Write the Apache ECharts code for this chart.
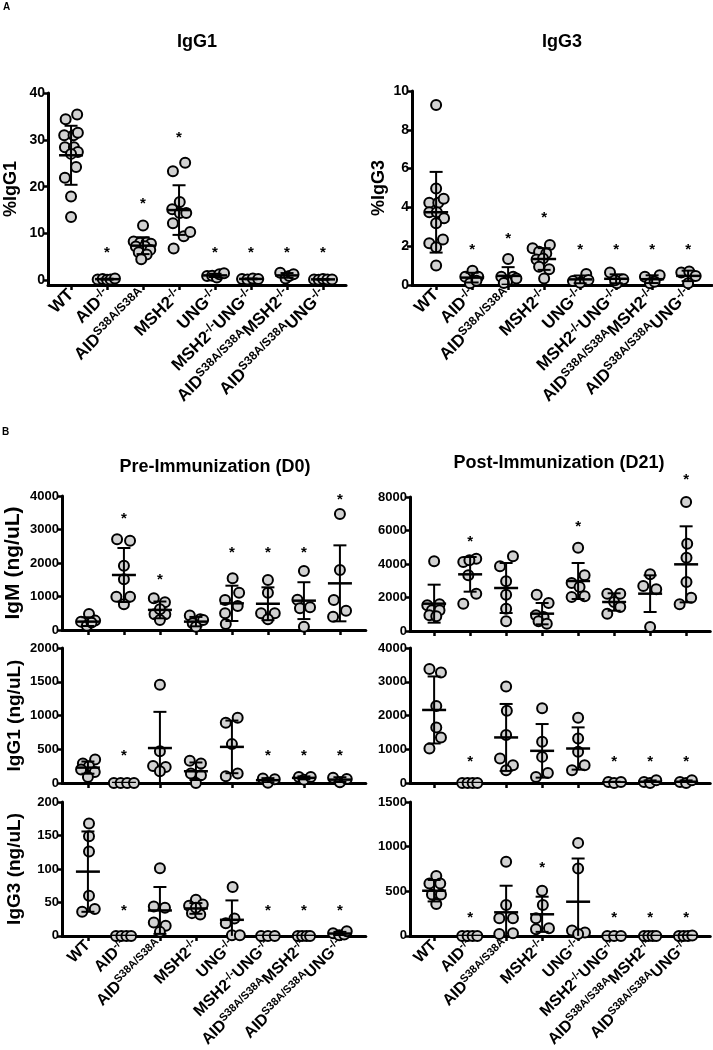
<!DOCTYPE html>
<html><head><meta charset="utf-8">
<script src="https://cdn.jsdelivr.net/npm/echarts@6/dist/echarts.min.js"></script>
<style>html,body{margin:0;padding:0;background:#fff}#c{width:713px;height:1050px}</style>
</head><body><div id="c"></div>
<script>
// ---------- categories & tick labels ----------
const categories = ['WT','AID-/-','AIDS38A/S38A','MSH2-/-','UNG-/-','MSH2-/-UNG-/-','AIDS38A/S38AMSH2-/-','AIDS38A/S38AUNG-/-'];
const categoryLabelsRich = ['{b|WT}','{b|AID}{s|-/-}','{b|AID}{s|S38A/S38A}','{b|MSH2}{s|-/-}','{b|UNG}{s|-/-}','{b|MSH2}{s|-/-}{b|UNG}{s|-/-}','{b|AID}{s|S38A/S38A}{b|MSH2}{s|-/-}','{b|AID}{s|S38A/S38A}{b|UNG}{s|-/-}'];
const pctIgG1Ticks = [0,10,20,30,40];
const pctIgG3Ticks = [0,2,4,6,8,10];
const preIgMTicks = [0,1000,2000,3000,4000];
const postIgMTicks = [0,2000,4000,6000,8000];
const preIgG1Ticks = [0,500,1000,1500,2000];
const postIgG1Ticks = [0,1000,2000,3000,4000];
const preIgG3Ticks = [0,50,100,150,200];
const postIgG3Ticks = [0,500,1000,1500];

// ---------- data: per group [jitter offset (category units), value] ----------
const pctIgG1Points = [
 [[0.17,35.4],[-0.15,34.4],[-0.19,31.0],[0.07,31.0],[0.19,31.5],[-0.17,28.4],[0.08,28.4],[0.19,27.4],[0,27.0],[0.14,24.2],[-0.17,21.9],[0,17.9],[0,13.5]],
 [[-0.26,0.2],[-0.12,0.3],[0,0.1],[0.1,0.2],[0.22,0.4]],
 [[0,11.7],[-0.26,8.3],[-0.08,8.0],[0.1,8.1],[0.22,7.8],[-0.2,7.2],[0.05,7.3],[0.2,6.5],[-0.12,6.0],[0.1,5.5],[-0.05,4.5]],
 [[-0.17,23.3],[0.17,25.1],[0.02,16.7],[-0.19,15.2],[0.02,14.4],[0.2,14.4],[-0.17,12.2],[0.13,9.4],[0.31,10.3],[-0.15,6.8]],
 [[-0.22,0.9],[-0.08,1.0],[0.05,0.6],[0.12,1.3],[0.25,1.5]],
 [[-0.25,0.3],[-0.1,0.2],[0.05,0.4],[0.2,0.3]],
 [[-0.19,1.6],[-0.04,0.4],[0.06,0.9],[0.18,1.3]],
 [[-0.25,0.2],[-0.12,0.1],[0,0.3],[0.12,0.2],[0.25,0.2]]
];
const pctIgG1Mean = [26.7,0.25,7.4,15.0,1.05,0.3,1.05,0.2];
const pctIgG1Sd = [6.3,0.1,1.8,5.3,0.35,0.08,0.5,0.07];
const pctIgG1Stars = [null,6.5,16.9,31.0,6.5,6.5,6.5,6.5];

const pctIgG3Points = [
 [[0,9.28],[0,4.98],[-0.19,4.24],[0.06,4.24],[0.21,4.45],[-0.19,3.75],[0.02,3.75],[0.22,3.44],[0,3.18],[0.19,2.35],[-0.19,2.15],[0,1.94],[0,1.0]],
 [[-0.19,0.43],[0.01,0.74],[0.17,0.43],[-0.06,0.09],[0.12,0.22]],
 [[0,1.34],[-0.19,0.43],[0.14,0.43],[-0.03,0.17],[0.23,0.34],[-0.12,0.1]],
 [[-0.32,1.89],[0.16,2.06],[-0.14,1.72],[0.06,1.63],[-0.21,1.32],[-0.03,1.37],[-0.14,0.94],[0.14,0.81],[0,0.33]],
 [[-0.2,0.2],[0,0.12],[0.17,0.57],[0.23,0.26]],
 [[-0.17,0.64],[0.02,0.09],[0.2,0.29],[-0.03,0.25]],
 [[-0.2,0.43],[-0.06,0.09],[0.21,0.5],[0.07,0.17]],
 [[-0.19,0.64],[0.03,0.69],[0.21,0.46],[0,0.09]]
];
const pctIgG3Mean = [3.75,0.38,0.47,1.34,0.29,0.32,0.3,0.47];
const pctIgG3Sd = [2.08,0.25,0.45,0.56,0.2,0.23,0.2,0.27];
const pctIgG3Stars = [null,1.98,2.54,3.6,1.98,1.98,1.98,1.98];

const preIgMPoints = [
 [[-0.19,250],[0.03,480],[0.2,280],[-0.03,130],[0.1,220]],
 [[-0.19,2706],[0.17,2667],[0,1920],[0,1512],[-0.21,995],[0.17,995],[0,766]],
 [[-0.17,950],[0.14,830],[-0.15,470],[0.15,470],[0,300],[0,620]],
 [[-0.17,430],[0.12,318],[0.2,300],[-0.09,200],[0,100]],
 [[0.02,1542],[0.2,1114],[-0.19,896],[0.16,716],[-0.19,500],[-0.17,179]],
 [[0,1492],[0,1114],[-0.19,498],[0.19,498],[0,318]],
 [[0,1761],[-0.18,900],[0.17,680],[-0.11,650],[0,100]],
 [[0,3463],[0,1791],[-0.17,896],[0.17,577],[-0.19,398]]
];
const preIgMMean = [250,1642,600,250,796,784,876,1393];
const preIgMSd = [130,806,250,140,527,490,550,1134];
const preIgMStars = [null,3400,1572,null,2400,2400,2400,3980];

const postIgMPoints = [
 [[0,4159],[-0.19,1532],[0.15,1592],[-0.06,1234],[0.15,1234],[-0.13,935],[0.06,876]],
 [[-0.19,4120],[0.17,4318],[-0.02,4220],[-0.05,3323],[0.17,2229],[-0.19,1632]],
 [[0.19,4458],[-0.17,3860],[0,2965],[0,2169],[0,1333],[0,577]],
 [[-0.15,2169],[0.18,1672],[-0.17,935],[0.04,836],[-0.1,577],[0.13,438]],
 [[0,4975],[0.18,3323],[-0.18,2866],[0.04,2627],[-0.18,2030],[0.18,2070]],
 [[-0.19,2229],[0.17,2229],[0,1731],[-0.19,1035],[0.17,1433]],
 [[0,3383],[-0.19,2687],[0.17,2488],[0,239]],
 [[0,7700],[0.03,5214],[0.01,4378],[0.01,2925],[-0.18,1592],[0.14,1990]]
];
const postIgMMean = [1632,3383,2567,1035,2985,1731,2229,3980];
const postIgMSd = [1134,1035,1493,637,1075,520,1094,2270];
const postIgMStars = [null,5512,null,null,6408,null,null,9194];

const preIgG1Points = [
 [[-0.14,288],[0.2,347],[0.03,248],[-0.19,199],[0.19,164],[0,89]],
 [[-0.28,0],[-0.09,0],[0.09,0],[0.28,0]],
 [[0,1454],[0,471],[-0.19,253],[0.16,238],[0,174]],
 [[-0.17,328],[0.14,288],[-0.14,139],[0.14,114],[0,0]],
 [[-0.17,893],[0.16,968],[0,576],[-0.17,99],[0.16,139]],
 [[-0.14,65],[0,5],[0.19,55]],
 [[-0.14,89],[0,50],[0.19,89]],
 [[-0.19,79],[0,10],[0.19,60]]
];
const preIgG1Mean = [228,0,518,174,535,42,76,50];
const preIgG1Sd = [90,0,536,130,390,30,22,35];
const preIgG1Stars = [null,452,null,null,null,452,452,452];

const postIgG1Points = [
 [[-0.13,3375],[0.19,3276],[0.06,2283],[0.06,1648],[0.19,1350],[-0.13,1022]],
 [[-0.22,0],[-0.07,0],[0.07,0],[0.2,0]],
 [[0,2859],[0.02,2144],[0,1419],[-0.17,725],[0.19,526],[0,377]],
 [[0,2213],[0,1221],[0,774],[0.16,298],[-0.17,179]],
 [[0,1936],[0,1320],[0,923],[-0.17,377],[0.18,526]],
 [[-0.16,30],[0,0],[0.19,30]],
 [[-0.17,30],[0,0],[0.17,80]],
 [[-0.17,30],[0,0],[0.16,80]]
];
const postIgG1Mean = [2164,0,1350,953,1022,20,37,37];
const postIgG1Sd = [993,0,992,794,626,17,40,40];
const postIgG1Stars = [null,725,null,null,null,725,725,725];

const preIgG3Points = [
 [[0.03,168],[0.03,149],[0.03,126],[0.03,60],[-0.16,36],[0.19,40]],
 [[-0.22,0],[-0.07,0],[0.07,0],[0.2,0]],
 [[0,101],[-0.17,44],[0.14,42],[-0.17,20],[0.16,15],[0,6]],
 [[0,54],[-0.19,45],[0.19,47],[-0.11,34],[0.12,32],[0,42]],
 [[0.02,73],[0.07,26],[-0.17,19],[0,1],[0.22,1]],
 [[-0.19,0],[0,0],[0.19,0]],
 [[-0.17,0],[-0.05,0],[0.07,0],[0.17,0]],
 [[-0.19,4],[-0.02,1],[0.12,2],[0.19,7]]
];
const preIgG3Mean = [96,0,38,41,24,0,0,3.5];
const preIgG3Sd = [60,0,35,8,29,0,0,2.5];
const preIgG3Stars = [null,42,null,null,null,42,42,42];

const postIgG3Points = [
 [[0.06,670],[-0.13,588],[0.17,588],[-0.06,465],[0.19,465],[0.06,357]],
 [[-0.22,0],[-0.07,0],[0.07,0],[0.2,0]],
 [[0,830],[0,346],[-0.19,197],[0.19,197],[-0.19,22],[0.19,30]],
 [[0,506],[0.02,346],[-0.17,197],[0.19,86],[-0.17,75]],
 [[0,1042],[0,756],[-0.17,60],[0.19,37],[0,20]],
 [[-0.19,0],[0,0],[0.19,0]],
 [[-0.17,0],[-0.05,0],[0.07,0],[0.17,0]],
 [[-0.2,0],[-0.07,0],[0.05,0],[0.17,5]]
];
const postIgG3Mean = [506,0,264,242,383,0,0,1];
const postIgG3Sd = [120,0,298,197,484,0,0,2];
const postIgG3Stars = [null,234,null,793,null,234,234,234];

// ---------- layout ----------
const FONT = '"Liberation Sans", Arial, Helvetica, sans-serif';
const BAND = 36;
const panels = [
 {pts:pctIgG1Points, mean:pctIgG1Mean, sd:pctIgG1Sd, stars:pctIgG1Stars, yMin:-1, yMax:40, ticks:pctIgG1Ticks, name:'%IgG1', left:48, top:93, height:192, pad:0.64, labels:true, tf:14, gap:28, nf:18, xf:17},
 {pts:pctIgG3Points, mean:pctIgG3Mean, sd:pctIgG3Sd, stars:pctIgG3Stars, yMin:0, yMax:10, ticks:pctIgG3Ticks, name:'%IgG3', left:412, top:91, height:194, pad:0.67, labels:true, tf:14, gap:24, nf:18, xf:17},
 {pts:preIgMPoints, mean:preIgMMean, sd:preIgMSd, stars:preIgMStars, yMin:0, yMax:4000, ticks:preIgMTicks, name:'IgM (ng/uL)', left:62, top:496, height:134, pad:0.72, labels:false, tf:13, gap:38, nf:21, xf:16},
 {pts:postIgMPoints, mean:postIgMMean, sd:postIgMSd, stars:postIgMStars, yMin:0, yMax:8000, ticks:postIgMTicks, name:'', left:410, top:497, height:134, pad:0.67, labels:false, tf:13, gap:40, nf:19, xf:16},
 {pts:preIgG1Points, mean:preIgG1Mean, sd:preIgG1Sd, stars:preIgG1Stars, yMin:0, yMax:2000, ticks:preIgG1Ticks, name:'IgG1 (ng/uL)', left:62, top:648, height:135, pad:0.72, labels:false, tf:13, gap:38, nf:19, xf:16},
 {pts:postIgG1Points, mean:postIgG1Mean, sd:postIgG1Sd, stars:postIgG1Stars, yMin:0, yMax:4000, ticks:postIgG1Ticks, name:'', left:410, top:648, height:135, pad:0.67, labels:false, tf:13, gap:40, nf:19, xf:16},
 {pts:preIgG3Points, mean:preIgG3Mean, sd:preIgG3Sd, stars:preIgG3Stars, yMin:0, yMax:200, ticks:preIgG3Ticks, name:'IgG3 (ng/uL)', left:62, top:802, height:135, pad:0.72, labels:true, tf:13, gap:38, nf:19, xf:16},
 {pts:postIgG3Points, mean:postIgG3Mean, sd:postIgG3Sd, stars:postIgG3Stars, yMin:0, yMax:1500, ticks:postIgG3Ticks, name:'', left:410, top:802, height:134, pad:0.67, labels:true, tf:13, gap:40, nf:19, xf:16}
];
const catIdx = categories.map((c,i)=>i);

const grid=[], xAxis=[], yAxis=[], series=[];
panels.forEach((p,i)=>{
  grid.push({left:p.left, top:p.top, width:(7+2*p.pad)*BAND, height:p.height, containLabel:false});
  xAxis.push({gridIndex:i, type:'value', min:-p.pad, max:7+p.pad, splitLine:{show:false},
    axisLine:{show:true, onZero:false, lineStyle:{color:'#000', width:3}},
    axisTick:{show:true, customValues:catIdx, length:5, lineStyle:{color:'#000', width:2.5}},
    axisLabel:{show:p.labels, customValues:catIdx, rotate:45, margin:7, interval:0,
      formatter:v=>categoryLabelsRich[Math.round(v)],
      rich:{b:{fontSize:p.xf, fontWeight:'bold', fontFamily:FONT, color:'#000', lineHeight:p.xf+3},
            s:{fontSize:Math.round(p.xf*0.68), fontWeight:'bold', fontFamily:FONT, color:'#000', verticalAlign:'top', lineHeight:Math.round(p.xf*0.6)}}}});
  yAxis.push({gridIndex:i, type:'value', min:p.yMin, max:p.yMax, splitLine:{show:false},
    axisLine:{show:true, onZero:false, lineStyle:{color:'#000', width:3}},
    axisTick:{show:true, customValues:p.ticks, length:5, lineStyle:{color:'#000', width:2.5}},
    axisLabel:{customValues:p.ticks, color:'#000', fontWeight:'bold', fontSize:p.tf, fontFamily:FONT, margin:3, formatter:v=>String(v)},
    name:p.name, nameLocation:'middle', nameRotate:90, nameGap:p.gap,
    nameTextStyle:{color:'#000', fontWeight:'bold', fontSize:p.nf, fontFamily:FONT}});
  const data = [];
  p.pts.forEach((grp,g)=>grp.forEach(([o,v])=>data.push([g+o, v])));
  series.push({type:'scatter', xAxisIndex:i, yAxisIndex:i, data, symbol:'circle', symbolSize:10, clip:false, z:3,
    itemStyle:{color:'#d2d2d2', borderColor:'#000', borderWidth:2, opacity:1}, emphasis:{disabled:true}, silent:true});
  const yMin = p.yMin;
  series.push({type:'custom', xAxisIndex:i, yAxisIndex:i, clip:true, z:4, silent:true,
    data:p.mean.map((m,g)=>[g,m,p.sd[g]]),
    renderItem:(params,api)=>{
      const x=api.value(0), m=api.value(1), s=api.value(2);
      const c=api.coord([x,m]), t=api.coord([x,m+s]), low=m-s, b=api.coord([x,Math.max(low,yMin)]);
      const ch=[{type:'line', shape:{x1:c[0]-12,y1:c[1],x2:c[0]+12,y2:c[1]}, style:{stroke:'#000', lineWidth:2.5}}];
      if (s>0) {
        ch.push({type:'line', shape:{x1:c[0],y1:t[1],x2:c[0],y2:b[1]}, style:{stroke:'#000', lineWidth:2}});
        ch.push({type:'line', shape:{x1:c[0]-6.5,y1:t[1],x2:c[0]+6.5,y2:t[1]}, style:{stroke:'#000', lineWidth:2}});
        if (low>yMin) ch.push({type:'line', shape:{x1:c[0]-6.5,y1:b[1],x2:c[0]+6.5,y2:b[1]}, style:{stroke:'#000', lineWidth:2}});
      }
      return {type:'group', children:ch};
    }});
  const starData=[]; p.stars.forEach((v,g)=>{ if(v!=null) starData.push([g,v]); });
  series.push({type:'custom', xAxisIndex:i, yAxisIndex:i, clip:false, z:5, silent:true, data:starData,
    renderItem:(params,api)=>{
      const c=api.coord([api.value(0),api.value(1)]);
      return {type:'text', style:{x:c[0], y:c[1]+3, text:'*', fill:'#000', font:'bold 15px '+FONT, align:'center', verticalAlign:'middle'}};
    }});
});

const titleFont = 'bold 18px '+FONT;
const graphic = [
  {type:'text', style:{x:3, y:7, text:'A', fill:'#000', font:'bold 10px '+FONT, align:'left', verticalAlign:'middle'}},
  {type:'text', style:{x:197, y:42, text:'IgG1', fill:'#000', font:titleFont, align:'center', verticalAlign:'middle'}},
  {type:'text', style:{x:562, y:42, text:'IgG3', fill:'#000', font:titleFont, align:'center', verticalAlign:'middle'}},
  {type:'text', style:{x:2, y:432, text:'B', fill:'#000', font:'bold 10px '+FONT, align:'left', verticalAlign:'middle'}},
  {type:'text', style:{x:215, y:467, text:'Pre-Immunization (D0)', fill:'#000', font:titleFont, align:'center', verticalAlign:'middle'}},
  {type:'text', style:{x:559, y:463, text:'Post-Immunization (D21)', fill:'#000', font:titleFont, align:'center', verticalAlign:'middle'}}
];

const chart = echarts.init(document.getElementById('c'), null, {renderer:'canvas'});
chart.setOption({animation:false, backgroundColor:'#fff', grid, xAxis, yAxis, series, graphic});
</script></body></html>
